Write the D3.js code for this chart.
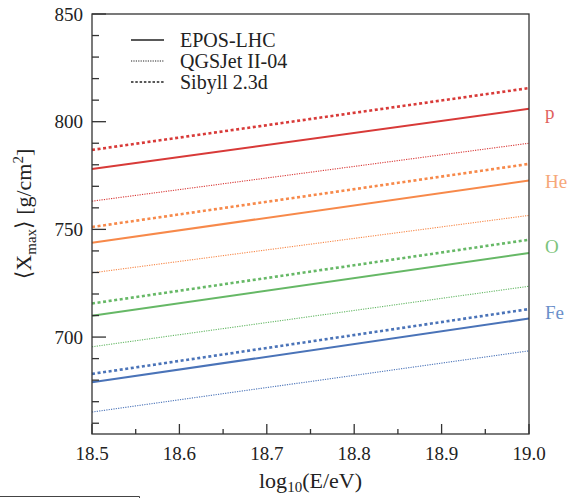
<!DOCTYPE html>
<html>
<head>
<meta charset="utf-8">
<script src="https://cdn.jsdelivr.net/npm/d3@7"></script>
<style>
  body { margin: 0; background: #fff; }
</style>
</head>
<body>
<svg id="chart"></svg>
<script>
// Data: mean Xmax at log10(E/eV) = 18.5 and 19.0
const energies = [18.5, 19.0];
const primaries = ["p", "He", "O", "Fe"];
const models = ["EPOS-LHC", "QGSJet II-04", "Sibyll 2.3d"];

const eposValues = { p: [778, 806], He: [743.8, 772.7], O: [709.9, 739], Fe: [679, 708.6] };
const qgsValues = { p: [763.1, 790], He: [729.8, 756.5], O: [695.5, 723.6], Fe: [665.2, 693.6] };
const sibyllValues = { p: [786.9, 815.6], He: [751.1, 780.4], O: [715.6, 745.2], Fe: [682.9, 713] };

const yTicks = [700, 750, 800, 850];
const xTicks = [18.5, 18.6, 18.7, 18.8, 18.9, 19.0];

// Colors per primary (lines, then labels)
const lineColor = { p: "#d83a38", He: "#f7894a", O: "#66b866", Fe: "#4a73b8" };
const labelColor = { p: "#e0605c", He: "#f6a77a", O: "#7cc47c", Fe: "#6a8fca" };

const serif = "'Liberation Serif', 'Times New Roman', 'DejaVu Serif', serif";

const W = 568, H = 498;
const margin = { top: 14, right: 39, bottom: 64, left: 92 };
const width = W - margin.left - margin.right;
const height = H - margin.top - margin.bottom;

const svg = d3.select("#chart").attr("width", W).attr("height", H)
  .attr("font-family", serif);
const g = svg.append("g").attr("transform", `translate(${margin.left},${margin.top})`);

const x = d3.scaleLinear().domain([18.5, 19.0]).range([0, width]);
const y = d3.scaleLinear().domain([655, 850]).range([height, 0]);

// Line styles per model
const styles = {
  "EPOS-LHC": { values: eposValues, width: 2, dash: null },
  "QGSJet II-04": { values: qgsValues, width: 1.1, dash: "1.2,1.2" },
  "Sibyll 2.3d": { values: sibyllValues, width: 2.6, dash: "3,2.6" }
};

const line = d3.line().x(d => x(d[0])).y(d => y(d[1]));

models.forEach(m => {
  const s = styles[m];
  primaries.forEach(p => {
    const pts = energies.map((e, i) => [e, s.values[p][i]]);
    g.append("path")
      .datum(pts)
      .attr("d", line)
      .attr("fill", "none")
      .attr("stroke", lineColor[p])
      .attr("stroke-width", s.width)
      .attr("stroke-dasharray", s.dash);
  });
});

// Frame
g.append("rect")
  .attr("width", width).attr("height", height)
  .attr("fill", "none").attr("stroke", "#333").attr("stroke-width", 1.3);

// Y axis ticks (inward)
const yMinor = d3.range(660, 851, 10);
g.selectAll(".ytick").data(yMinor).enter().append("line")
  .attr("x1", 0).attr("x2", d => (d % 50 === 0 ? 14 : 7))
  .attr("y1", d => y(d)).attr("y2", d => y(d))
  .attr("stroke", "#333").attr("stroke-width", 1.3);
g.selectAll(".ylab").data(yTicks).enter().append("text")
  .attr("x", -9).attr("y", d => y(d)).attr("dy", "0.35em")
  .attr("text-anchor", "end").attr("fill", "#222").style("font-size", "19px")
  .text(d => d);

// X axis ticks (inward)
const xMinor = d3.range(0, 11).map(i => 18.5 + i * 0.05);
g.selectAll(".xtick").data(xMinor).enter().append("line")
  .attr("x1", d => x(d)).attr("x2", d => x(d))
  .attr("y1", height).attr("y2", (d, i) => height - (i % 2 === 0 ? 10 : 5))
  .attr("stroke", "#333").attr("stroke-width", 1.3);
g.selectAll(".xlab").data(xTicks).enter().append("text")
  .attr("x", d => x(d)).attr("y", height + 26)
  .attr("text-anchor", "middle").attr("fill", "#222").style("font-size", "19px")
  .text(d => d.toFixed(1));

// Axis titles
const xt = svg.append("text")
  .attr("x", margin.left + width / 2).attr("y", 488)
  .attr("text-anchor", "middle").attr("fill", "#222").style("font-size", "22px");
xt.append("tspan").text("log");
xt.append("tspan").attr("dy", 4).style("font-size", "15px").text("10");
xt.append("tspan").attr("dy", -4).text("(E/eV)");

const yt = svg.append("text")
  .attr("transform", `translate(31,${margin.top + 200}) rotate(-90)`)
  .attr("text-anchor", "middle").attr("fill", "#222").style("font-size", "22px");
yt.append("tspan").text("\u27E8X");
yt.append("tspan").attr("dy", 5).style("font-size", "15px").text("max");
yt.append("tspan").attr("dy", -5).text("\u27E9 [g/cm");
yt.append("tspan").attr("dy", -8).style("font-size", "15px").text("2");
yt.append("tspan").attr("dy", 8).text("]");

// Legend
const legend = g.append("g").attr("transform", "translate(39,26)");
models.forEach((m, i) => {
  const s = styles[m];
  const row = legend.append("g").attr("transform", `translate(0,${i * 21})`);
  row.append("line")
    .attr("x1", 0).attr("x2", 33).attr("y1", 0).attr("y2", 0)
    .attr("stroke", "#222")
    .attr("stroke-width", m === "QGSJet II-04" ? 1 : 1.5)
    .attr("stroke-dasharray", m === "Sibyll 2.3d" ? "2.5,1.8" : s.dash);
  row.append("text")
    .attr("x", 49).attr("y", 0).attr("dy", "0.33em")
    .attr("fill", "#222").style("font-size", "20px").text(m);
});

// Primary labels on the right
const labelY = { p: 806, He: 774, O: 744, Fe: 713.5 };
primaries.forEach(p => {
  g.append("text")
    .attr("x", width + 16).attr("y", y(labelY[p]) + 4)
    .attr("dy", "0.35em")
    .style("font-size", "19px")
    .attr("fill", labelColor[p])
    .text(p);
});

// Partial box at the bottom-left corner (edge of neighbouring figure)
svg.append("path")
  .attr("d", "M0,496.5 H139.5 V498")
  .attr("fill", "none").attr("stroke", "#444").attr("stroke-width", 1);
</script>
</body>
</html>
